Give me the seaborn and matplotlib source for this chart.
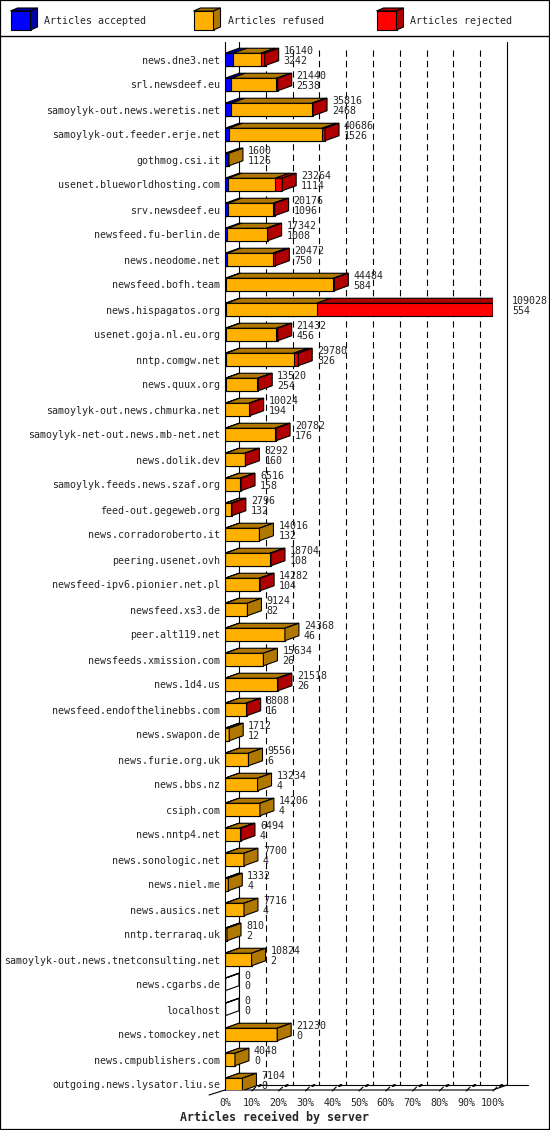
import matplotlib
matplotlib.use("Agg")
import matplotlib.pyplot as plt
import seaborn as sns
import pandas as pd
import numpy as np
from matplotlib.patches import Polygon, Rectangle
from matplotlib.lines import Line2D

servers = [
    "news.dne3.net", "srl.newsdeef.eu", "samoylyk-out.news.weretis.net",
    "samoylyk-out.feeder.erje.net", "gothmog.csi.it", "usenet.blueworldhosting.com",
    "srv.newsdeef.eu", "newsfeed.fu-berlin.de", "news.neodome.net",
    "newsfeed.bofh.team", "news.hispagatos.org", "usenet.goja.nl.eu.org",
    "nntp.comgw.net", "news.quux.org", "samoylyk-out.news.chmurka.net",
    "samoylyk-net-out.news.mb-net.net", "news.dolik.dev", "samoylyk.feeds.news.szaf.org",
    "feed-out.gegeweb.org", "news.corradoroberto.it", "peering.usenet.ovh",
    "newsfeed-ipv6.pionier.net.pl", "newsfeed.xs3.de", "peer.alt119.net",
    "newsfeeds.xmission.com", "news.1d4.us", "newsfeed.endofthelinebbs.com",
    "news.swapon.de", "news.furie.org.uk", "news.bbs.nz", "csiph.com",
    "news.nntp4.net", "news.sonologic.net", "news.niel.me", "news.ausics.net",
    "nntp.terraraq.uk", "samoylyk-out.news.tnetconsulting.net", "news.cgarbs.de",
    "localhost", "news.tomockey.net", "news.cmpublishers.com",
    "outgoing.news.lysator.liu.se",
]
offered = [16140, 21440, 35816, 40686, 1600, 23264, 20176, 17342, 20472, 44484,
           109028, 21432, 29780, 13520, 10024, 20782, 8292, 6516, 2796, 14016,
           18704, 14282, 9124, 24368, 15634, 21518, 8808, 1712, 9556, 13234,
           14206, 6494, 7700, 1332, 7716, 810, 10824, 0, 0, 21230, 4048, 7104]
accepted = [3242, 2538, 2468, 1526, 1126, 1114, 1096, 1008, 750, 584,
            554, 456, 326, 254, 194, 176, 160, 158, 132, 132,
            108, 104, 82, 46, 26, 26, 16, 12, 6, 4,
            4, 4, 4, 4, 4, 2, 2, 0, 0, 0, 0, 0]
# rejected counts
rejected = [1600, 500, 500, 1200, 0, 2800, 500, 400, 1000, 400,
            71700, 500, 1800, 300, 300, 400, 300, 300, 400, 0,
            400, 300, 0, 0, 0, 400, 300, 0, 0, 0,
            0, 500, 0, 0, 0, 0, 0, 0, 0, 0, 0, 0]

df = pd.DataFrame({"server": servers, "offered": offered,
                   "accepted": accepted, "rejected": rejected})
df["refused"] = df["offered"] - df["accepted"] - df["rejected"]
df["acc_ref"] = df["accepted"] + df["refused"]

BLUE, BLUE_D = "#0000ff", "#0000a8"
ORANGE, ORANGE_D = "#ffb000", "#b07800"
RED, RED_D = "#ff0000", "#b00000"

sns.set_style("white")
plt.rcParams["font.family"] = ["DejaVu Sans Mono"]
plt.rcParams["lines.scale_dashes"] = False

W, H = 550, 1130
fig = plt.figure(figsize=(W / 100, H / 100), dpi=100)
fig.patch.set_facecolor("white")

def fx(px):
    return px / W

def fy(py):
    return 1 - py / H

# front plane of the chart
ax = fig.add_axes([fx(225), fy(1090), (493 - 225) / W, (1090 - 45) / H])

for col, c in [("offered", RED), ("acc_ref", ORANGE), ("accepted", BLUE)]:
    sns.barplot(data=df, x=col, y="server", orient="h", color=c, saturation=1,
                width=0.5, edgecolor="black", linewidth=0.8, errorbar=None, ax=ax)

xmax = df["offered"].max()
y_bot = (1090 - 59.5) / 25
y_top = (45 - 59.5) / 25
ax.set_xlim(0, xmax)
ax.set_ylim(y_bot, y_top)

px_x = xmax / 268.0        # data units per pixel (x)
px_y = 1 / 25.0            # data units per pixel (y)
dx = 14 * px_x
dy = 5 * px_y
half = 0.25

# 3D tops and sides
for k, row in df.iterrows():
    t, b = k - half, k + half
    segs = [(0, row["accepted"], BLUE_D),
            (row["accepted"], row["acc_ref"], ORANGE_D),
            (row["acc_ref"], row["offered"], RED_D)]
    for x0, x1, c in segs:
        ax.add_patch(Polygon([(x0, t), (x1, t), (x1 + dx, t - dy), (x0 + dx, t - dy)],
                             closed=True, facecolor=c, edgecolor="black", lw=0.8))
    last = ORANGE_D
    if row["rejected"] > 0:
        last = RED_D
    elif row["refused"] == 0 and row["accepted"] > 0:
        last = BLUE_D
    xe = row["offered"]
    if xe == 0:
        last = "none"
    ax.add_patch(Polygon([(xe, t), (xe, b), (xe + dx, b - dy), (xe + dx, t - dy)],
                         closed=True, facecolor=last, edgecolor="black", lw=0.8))
    tx = xe + dx + 5 * px_x
    ax.text(tx, k - 0.34, str(row["offered"]), fontsize=7.2, va="center", ha="left")
    ax.text(tx, k + 0.06, str(row["accepted"]), fontsize=7.2, va="center", ha="left")

# walls and grid
wall_top = (42 - 59.5) / 25
back_bot = y_bot - dy
kw = dict(color="black", lw=0.8, clip_on=False, zorder=0.5)
ax.plot([0, 0], [wall_top, y_bot], **kw)
ax.plot([dx, dx], [wall_top, back_bot], **kw)
ax.plot([xmax + dx, xmax + dx], [wall_top, back_bot], **kw)
for j in range(1, 10):
    ax.plot([xmax * j / 10 + dx] * 2, [wall_top + 0.3, back_bot], dashes=[4.5, 3],
            color="black", lw=0.8, clip_on=False, zorder=0.5)
ax.plot([0, xmax, xmax + dx], [y_bot, y_bot, back_bot], **kw)
ax.plot([dx, xmax + dx + 21 * px_x], [back_bot, back_bot], **kw)
ax.plot([0, -16 * px_x], [y_bot, y_bot + dy], **kw)
for j in range(1, 11):
    xk = xmax * j / 10
    ax.plot([xk, xk + 4 * px_x], [y_bot + 0.04, y_bot - 0.12], **kw)
    ax.plot([xk + 7 * px_x, xk + 9 * px_x], [y_bot - 0.16, y_bot - 0.2],
            color="black", lw=1.6, clip_on=False)

ax.set_xticks([xmax * j / 10 for j in range(11)])
ax.set_xticklabels([f"{10 * j}%" for j in range(11)])
ax.set_yticks(range(len(servers)))
ax.set_yticklabels(servers)
ax.tick_params(axis="y", length=0, pad=3.6, labelsize=7.2)
ax.tick_params(axis="x", length=0, pad=5.5, labelsize=7.2)
ax.set_xlabel("")
ax.set_ylabel("")
for s in ax.spines.values():
    s.set_visible(False)
ax.grid(False)
ax.patch.set_alpha(0)

fig.text(fx(180), fy(1117), "Articles received by server", fontsize=8.4,
         fontweight="bold", ha="left", va="center")

# legend strip
lax = fig.add_axes([0, fy(35), 1, 35 / H])
lax.set_xlim(0, W)
lax.set_ylim(35, 0)
lax.axis("off")
legend_items = [(10.5, 44.5, BLUE, BLUE_D, "Articles accepted"),
                (193.5, 227.5, ORANGE, ORANGE_D, "Articles refused"),
                (376.5, 410.5, RED, RED_D, "Articles rejected")]
for x0, xt, c, cd, label in legend_items:
    lax.add_patch(Polygon([(x0, 11), (x0 + 20, 11), (x0 + 20, 30), (x0, 30)],
                          facecolor=c, edgecolor="black", lw=0.8))
    lax.add_patch(Polygon([(x0, 11), (x0 + 20, 11), (x0 + 27, 8), (x0 + 7, 8)],
                          facecolor=cd, edgecolor="black", lw=0.8))
    lax.add_patch(Polygon([(x0 + 20, 11), (x0 + 20, 30), (x0 + 27, 27), (x0 + 27, 8)],
                          facecolor=cd, edgecolor="black", lw=0.8))
    lax.text(xt, 20.5, label, fontsize=7.2, va="center", ha="left")

fig.add_artist(Line2D([0, 1], [fy(35.5), fy(35.5)], transform=fig.transFigure,
                      color="black", lw=1))
fig.add_artist(Rectangle((0, 0), 1, 1, transform=fig.transFigure, fill=False,
                         edgecolor="black", lw=1.6))

fig.savefig("out.png", dpi=100)
